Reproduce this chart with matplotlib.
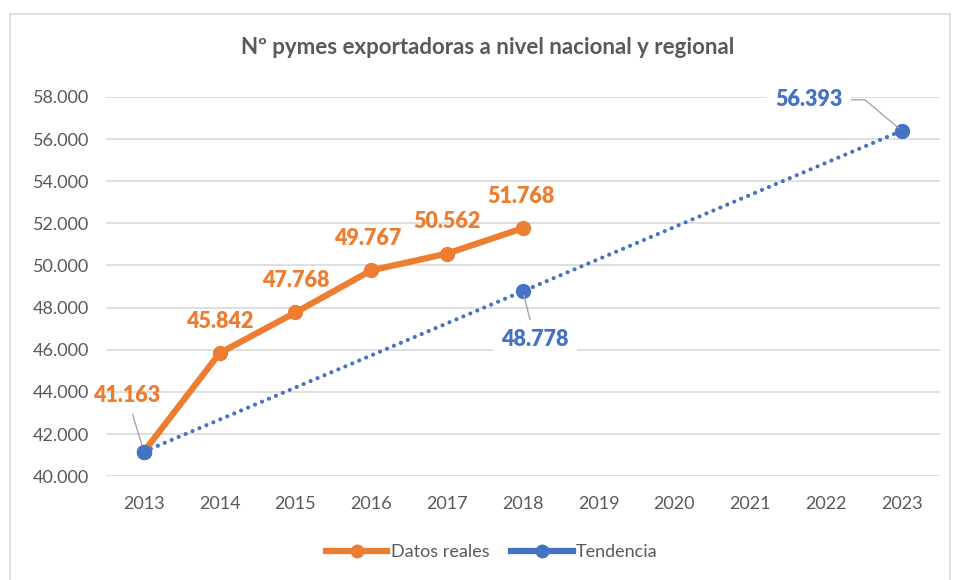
import matplotlib.pyplot as plt
from matplotlib.lines import Line2D
from matplotlib.patches import Rectangle
import numpy as np

plt.rcParams['font.family'] = ['Lato', 'DejaVu Sans']

# data
years = list(range(2013, 2024))
real_years = [2013, 2014, 2015, 2016, 2017, 2018]
real_vals = [41163, 45842, 47768, 49767, 50562, 51768]
trend_years = [2013, 2018, 2023]
trend_vals = [41163, 48778, 56393]

orange = "#ED7D31"
blue = "#4472C4"
grey_txt = "#595959"


def fmt(v):
    return f"{v:,.0f}".replace(",", ".")


fig = plt.figure(figsize=(9.55, 5.8), dpi=100)
ax = fig.add_axes([0.111, 0.179, 0.873, 0.654])

# chart border
fig.patches.append(Rectangle((10 / 955, -0.01), 940 / 955, 1 - 14 / 580 + 0.01,
                             transform=fig.transFigure, fill=False,
                             edgecolor="#D9D9D9", lw=1.2))

ax.plot(trend_years, trend_vals, color=blue, lw=3, ls=(0, (0.01, 1.8)),
        dash_capstyle="round", marker="o", ms=10, zorder=3)
ax.plot(real_years, real_vals, color=orange, lw=4.5, marker="o", ms=10,
        solid_capstyle="round", zorder=4)
# trend start marker sits on top in the reference
ax.plot(trend_years[:1], trend_vals[:1], "o", color=blue, ms=10, zorder=5)

ax.set_xlim(2012.5, 2023.5)
ax.set_ylim(40000, 58000)
ax.set_xticks(years)
ax.set_xticklabels([str(y) for y in years])
yt = np.arange(40000, 58001, 2000)
ax.set_yticks(yt)
ax.set_yticklabels([fmt(v) for v in yt])
ax.tick_params(length=0, labelsize=13, colors=grey_txt)
ax.tick_params(axis="y", pad=12)
ax.tick_params(axis="x", pad=14)
ax.grid(axis="y", color="#D9D9D9", lw=1.2)
ax.set_axisbelow(True)
for s in ax.spines.values():
    s.set_visible(False)

lab = dict(ha="center", va="center", fontsize=15.5, fontweight="heavy")

# data labels (real)
offsets = [(-17, 56), (0, 32), (0, 32), (-4, 32), (0, 32), (-2, 32)]
for (x, v, off) in zip(real_years, real_vals, offsets):
    if x == 2013:
        ax.annotate(fmt(v), (x, v), xytext=off, textcoords="offset pixels",
                    color=orange, **lab,
                    arrowprops=dict(arrowstyle="-", color="#A6A6A6", lw=1,
                                    shrinkA=4, shrinkB=3))
    else:
        ax.annotate(fmt(v), (x, v), xytext=off, textcoords="offset pixels",
                    color=orange, **lab)

# data labels (trend)
ax.annotate(fmt(trend_vals[1]), (trend_years[1], trend_vals[1]), xytext=(12, -48),
            textcoords="offset pixels", color=blue, **lab,
            bbox=dict(boxstyle="square,pad=0.4", fc="white", ec="none"),
            arrowprops=dict(arrowstyle="-", color="#A6A6A6", lw=1,
                            shrinkA=0, shrinkB=3))
ax.annotate(fmt(trend_vals[2]), (trend_years[2], trend_vals[2]), xytext=(-93, 31),
            textcoords="offset pixels", color=blue, **lab,
            bbox=dict(boxstyle="square,pad=0.4", fc="white", ec="none"),
            arrowprops=dict(arrowstyle="-", color="#A6A6A6", lw=1,
                            shrinkA=0, shrinkB=3,
                            connectionstyle="angle,angleA=0,angleB=140,rad=0"))

fig.text(0.511, 1 - 48 / 580, "Nº pymes exportadoras a nivel nacional y regional",
         ha="center", va="center", fontsize=16, fontweight="bold", color=grey_txt)

handles = [Line2D([], [], color=orange, lw=4.5, marker="o", ms=9),
           Line2D([], [], color=blue, lw=4.5, marker="o", ms=9)]
fig.legend(handles, ["Datos reales", "Tendencia"], loc="center",
           bbox_to_anchor=(0.515, 1 - 552 / 580), ncol=2, frameon=False,
           fontsize=13, handlelength=3.4, handletextpad=0.2, columnspacing=1.2,
           labelcolor=grey_txt)

fig.savefig("out.png", dpi=100)
